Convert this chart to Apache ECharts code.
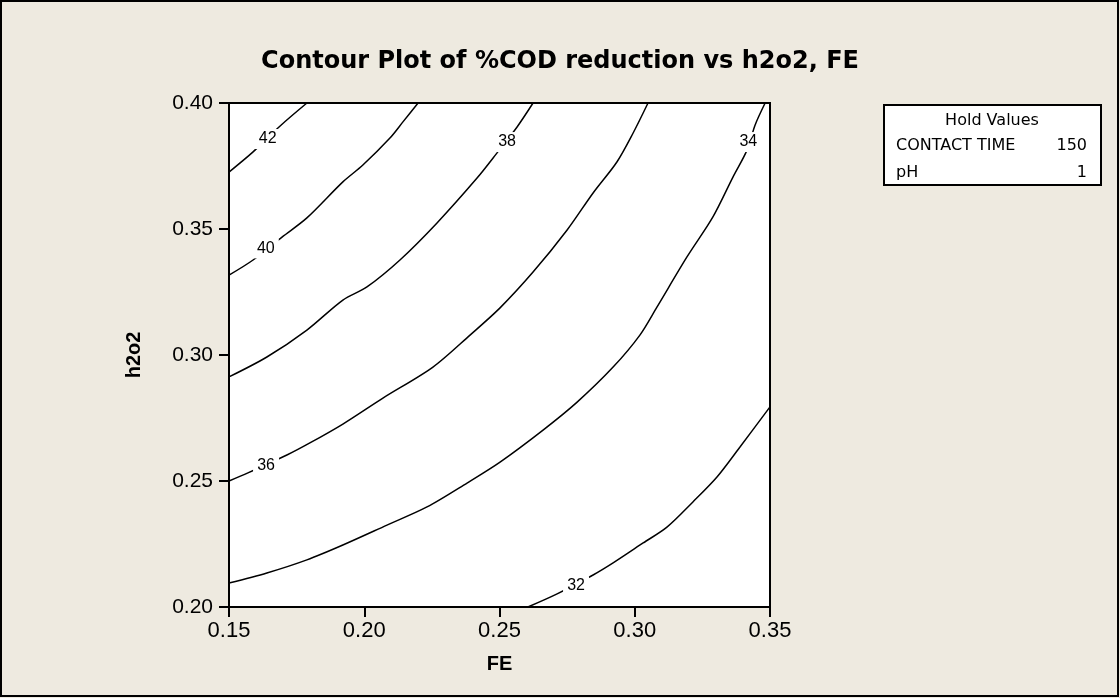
<!DOCTYPE html>
<html>
<head>
<meta charset="utf-8">
<script src="https://cdn.jsdelivr.net/npm/echarts@6/dist/echarts.min.js"></script>
<style>
  html, body { margin: 0; padding: 0; background: #eeeae0; }
  #chart { width: 1120px; height: 698px; }
</style>
</head>
<body>
<div id="chart"></div>
<script>
// contour levels, each line as [FE, h2o2] points
const levels = [42, 40, 38, 36, 34, 32];

const line42 = [[0.150, 0.3726], [0.1589, 0.3806], [0.1689, 0.3909], [0.1788, 0.400]];
const line40 = [[0.150, 0.3317], [0.1589, 0.3377], [0.1696, 0.3468], [0.1788, 0.3544], [0.1921, 0.3687],
  [0.1995, 0.3754], [0.2095, 0.3861], [0.2143, 0.3925], [0.2199, 0.400]];
const line38 = [[0.150, 0.2913], [0.1640, 0.2992], [0.1788, 0.3099], [0.1921, 0.3218], [0.2010, 0.3270],
  [0.2132, 0.3377], [0.2269, 0.3524], [0.2417, 0.3702], [0.2491, 0.3802], [0.2565, 0.3905], [0.2624, 0.400]];
const line36 = [[0.150, 0.2500], [0.1570, 0.2532], [0.1714, 0.2603], [0.1799, 0.2651], [0.1921, 0.2726],
  [0.2069, 0.2829], [0.2254, 0.2952], [0.2391, 0.3079], [0.2502, 0.3187], [0.2624, 0.3329], [0.2750, 0.3496],
  [0.2846, 0.3643], [0.2934, 0.3766], [0.2994, 0.3881], [0.3049, 0.400]];
const line34 = [[0.150, 0.2095], [0.1640, 0.2135], [0.1788, 0.2187], [0.1921, 0.2246], [0.2084, 0.2325],
  [0.2232, 0.2397], [0.2380, 0.2492], [0.2502, 0.2575], [0.2661, 0.2702], [0.2787, 0.2813], [0.2920, 0.2952],
  [0.3019, 0.3079], [0.3082, 0.3190], [0.3193, 0.3389], [0.3289, 0.3548], [0.3363, 0.3706], [0.3415, 0.3813],
  [0.3445, 0.3913], [0.3482, 0.400]];
const line32 = [[0.2605, 0.200], [0.2713, 0.2052], [0.2846, 0.2127], [0.2920, 0.2175], [0.3031, 0.2254],
  [0.3119, 0.2317], [0.3215, 0.2417], [0.3304, 0.2516], [0.3389, 0.2635], [0.350, 0.2794]];

const contourLines = [line42, line40, line38, line36, line34, line32];

// where each level's number sits on its line
const labelPos = [[0.1643, 0.3857], [0.1636, 0.3423], [0.2528, 0.3845], [0.1637, 0.2563], [0.3420, 0.3845], [0.2783, 0.2083]];

const holdNames = ['CONTACT TIME', 'pH'];
const holdValues = [150, 1];

const chart = echarts.init(document.getElementById('chart'));

const font = '"Liberation Sans", Arial, sans-serif';
const wide = '"DejaVu Sans", sans-serif';

const series = contourLines.map((pts, i) => ({
  type: 'line',
  name: 'level ' + levels[i],
  data: pts,
  showSymbol: false,
  smooth: 0.3,
  lineStyle: { color: '#000', width: 1.5 },
  z: 2
}));

// level numbers: white boxes that break the line, text on top
series.push({
  type: 'scatter',
  data: labelPos.map((p, i) => ({ value: p, name: String(levels[i]) })),
  symbol: 'rect',
  symbolSize: [26, 20],
  itemStyle: { color: '#fff', opacity: 1 },
  silent: true,
  z: 5,
  label: {
    show: true,
    position: 'inside',
    formatter: p => p.name,
    color: '#000',
    fontFamily: font,
    fontSize: 16
  }
});

chart.setOption({
  backgroundColor: '#eeeae0',
  animation: false,
  title: {
    text: 'Contour Plot of %COD reduction vs h2o2, FE',
    left: 'center',
    top: 45,
    textStyle: { fontFamily: wide, fontSize: 24, fontWeight: 'bold', color: '#000' }
  },
  grid: {
    left: 229, right: 350, top: 103, bottom: 91,
    show: true,
    backgroundColor: '#fff',
    borderColor: '#000',
    borderWidth: 2
  },
  xAxis: {
    type: 'value',
    min: 0.15, max: 0.35, interval: 0.05,
    name: 'FE',
    nameLocation: 'middle',
    nameGap: 47,
    nameTextStyle: { fontFamily: font, fontSize: 20, fontWeight: 'bold', color: '#000' },
    axisLine: { show: true, lineStyle: { color: '#000', width: 2 } },
    axisTick: { show: true, length: 10, lineStyle: { color: '#000', width: 2 } },
    axisLabel: { margin: 13, fontFamily: font, fontSize: 22, color: '#000', formatter: v => v.toFixed(2) },
    splitLine: { show: false }
  },
  yAxis: {
    type: 'value',
    min: 0.2, max: 0.4, interval: 0.05,
    name: 'h2o2',
    nameLocation: 'middle',
    nameRotate: 90,
    nameGap: 85,
    nameTextStyle: { fontFamily: font, fontSize: 20, fontWeight: 'bold', color: '#000' },
    axisLine: { show: true, lineStyle: { color: '#000', width: 2 } },
    axisTick: { show: true, length: 10, lineStyle: { color: '#000', width: 2 } },
    axisLabel: { margin: 16, fontFamily: font, fontSize: 21, color: '#000', formatter: v => v.toFixed(2) },
    splitLine: { show: false }
  },
  graphic: [
    {
      type: 'rect',
      shape: { x: 1, y: 1, width: 1117, height: 695 },
      style: { fill: null, stroke: '#000', lineWidth: 2 },
      silent: true
    },
    {
      type: 'group',
      left: 883,
      top: 104,
      children: [
        { type: 'rect', shape: { x: 0, y: 0, width: 217, height: 80 },
          style: { fill: '#fff', stroke: '#000', lineWidth: 2 } },
        { type: 'text', x: 108, y: 16,
          style: { text: 'Hold Values', font: '16px ' + wide, fill: '#000', align: 'center', verticalAlign: 'middle' } },
        { type: 'text', x: 12, y: 41,
          style: { text: holdNames[0], font: '16px ' + wide, fill: '#000', verticalAlign: 'middle' } },
        { type: 'text', x: 203, y: 41,
          style: { text: String(holdValues[0]), font: '16px ' + wide, fill: '#000', align: 'right', verticalAlign: 'middle' } },
        { type: 'text', x: 12, y: 68,
          style: { text: holdNames[1], font: '16px ' + wide, fill: '#000', verticalAlign: 'middle' } },
        { type: 'text', x: 203, y: 68,
          style: { text: String(holdValues[1]), font: '16px ' + wide, fill: '#000', align: 'right', verticalAlign: 'middle' } }
      ]
    }
  ],
  series: series
});
</script>
</body>
</html>
